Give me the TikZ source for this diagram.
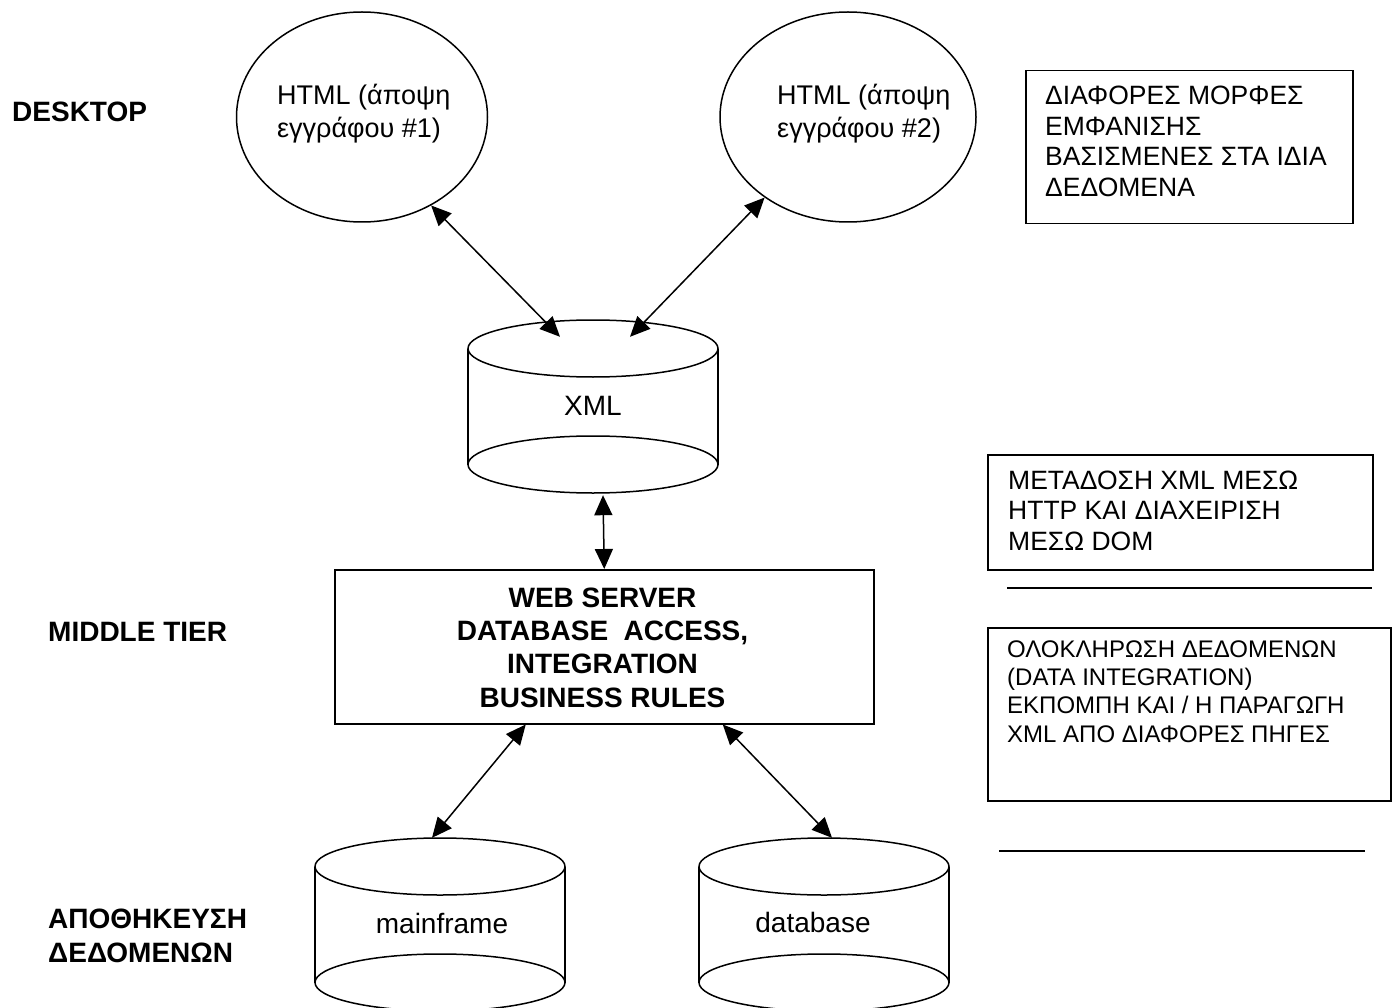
\documentclass[tikz,border=0pt]{standalone}
\usepackage{fontspec}
\setmainfont{Liberation Sans}
\usetikzlibrary{arrows.meta,shapes.geometric}
\newcommand\drumshape[2]{%
  \draw[ln] (#1,{#2+28.5}) ellipse [x radius=125pt, y radius=28.5pt];
  \draw[ln] (#1,{#2+144.5}) ellipse [x radius=125pt, y radius=28.5pt];
  \draw[ln] ({#1-125},{#2+28.5}) -- ({#1-125},{#2+144.5});
  \draw[ln] ({#1+125},{#2+28.5}) -- ({#1+125},{#2+144.5});
}
\begin{document}
\begin{tikzpicture}[x=1pt,y=-1pt,
  ln/.style={line width=1.5pt},
  arr/.style={line width=1.5pt, >={Triangle[length=20pt,width=18pt]}, <->},
  oval/.style={ellipse, draw, line width=1.5pt, minimum width=#1, minimum height=210pt, inner sep=0pt},
  frame/.style={draw, line width=1.5pt, inner sep=0pt, anchor=north west},
  body/.style={inner sep=0pt, minimum width=250pt, minimum height=172pt},
  etxt/.style={font={\fontsize{27}{33}\selectfont}, inner sep=0pt, align=left, anchor=base west},
  btxt/.style={font={\fontsize{26.5}{30.5}\selectfont}, inner sep=0pt, align=left, anchor=base west},
  stxt/.style={font={\fontsize{24}{28.3}\selectfont}, inner sep=0pt, align=left, anchor=base west},
  cyltxt/.style={font={\fontsize{28}{33}\selectfont}, inner sep=0pt, anchor=base},
  side/.style={font={\fontsize{28}{34}\selectfont\bfseries}, inner sep=0pt, align=left, anchor=base west},
  midtxt/.style={font={\fontsize{28}{33.3}\selectfont\bfseries}, inner sep=0pt, align=center, anchor=base}
]
\useasboundingbox (0,0) rectangle (1394,1008);
\clip (0,0) rectangle (1394,1008);

% left tier labels (multi-line nodes are placed by their last baseline)
\node[side] (ldesk) at (12,122) {DESKTOP};
\node[side] (lmid) at (48,641) {MIDDLE TIER};
\node[side] (lstore) at (48,962) {ΑΠΟΘΗΚΕΥΣΗ\\ΔΕΔΟΜΕΝΩΝ};

% HTML views
\node[oval=251pt] (h1) at (362,117) {};
\node[etxt] (h1t) at (277,138) {HTML (άποψη\\εγγράφου \#1)};
\node[oval=256pt] (h2) at (848,117) {};
\node[etxt] (h2t) at (777,138) {HTML (άποψη\\εγγράφου \#2)};

% XML cylinder
\node[body] (xml) at (593,406) {};
\drumshape{593}{320}
\node[cyltxt] (xmlt) at (593,415) {XML};

% middle tier box
\node[frame, minimum width=539pt, minimum height=154pt] (mid) at (334,569) {};
\node[midtxt] (midt) at (602.5,707) {WEB SERVER\\DATABASE~~ACCESS,\\INTEGRATION\\BUSINESS RULES};

% storage cylinders
\node[body] (mf) at (440,924) {};
\drumshape{440}{838}
\node[cyltxt] (mft) at (442,933) {mainframe};
\node[body] (db) at (824,924) {};
\drumshape{824}{838}
\node[cyltxt] (dbt) at (813,932) {database};

% right annotation boxes
\node[frame, minimum width=327pt, minimum height=153pt] (b1) at (1025,70) {};
\node[btxt] (b1t) at (1045,196.5) {ΔΙΑΦΟΡΕΣ ΜΟΡΦΕΣ\\ΕΜΦΑΝΙΣΗΣ\\ΒΑΣΙΣΜΕΝΕΣ ΣΤΑ ΙΔΙΑ\\ΔΕΔΟΜΕΝΑ};
\node[frame, minimum width=385pt, minimum height=115pt] (b2) at (987,454) {};
\node[btxt] (b2t) at (1008,550) {ΜΕΤΑΔΟΣΗ XML ΜΕΣΩ\\HTTP ΚΑΙ ΔΙΑΧΕΙΡΙΣΗ\\ΜΕΣΩ DOM};
\coordinate (sepAl) at (1007,588);
\coordinate (sepAr) at (1372,588);
\draw[ln] (sepAl) -- (sepAr);
\node[frame, minimum width=403pt, minimum height=173pt] (b3) at (987,627) {};
\node[stxt] (b3t) at (1007,742) {ΟΛΟΚΛΗΡΩΣΗ ΔΕΔΟΜΕΝΩΝ\\(DATA INTEGRATION)\\ΕΚΠΟΜΠΗ ΚΑΙ / Η ΠΑΡΑΓΩΓΗ\\XML ΑΠΟ ΔΙΑΦΟΡΕΣ ΠΗΓΕΣ};
\coordinate (sepBl) at (999,851);
\coordinate (sepBr) at (1365,851);
\draw[ln] (sepBl) -- (sepBr);

% connectors
\draw[arr] (h1.-52) -- ([xshift=-33pt,yshift=-17pt]xml.north);
\draw[arr] (h2.-136) -- ([xshift=37pt,yshift=-17pt]xml.north);
\draw[arr] ([xshift=10pt,yshift=-3pt]xml.south) -- (mid.north);
\draw[arr] ([xshift=-78.5pt]mid.south) -- ([xshift=-8pt]mf.north);
\draw[arr] ([xshift=118.5pt]mid.south) -- ([xshift=8pt]db.north);
\end{tikzpicture}
\end{document}
